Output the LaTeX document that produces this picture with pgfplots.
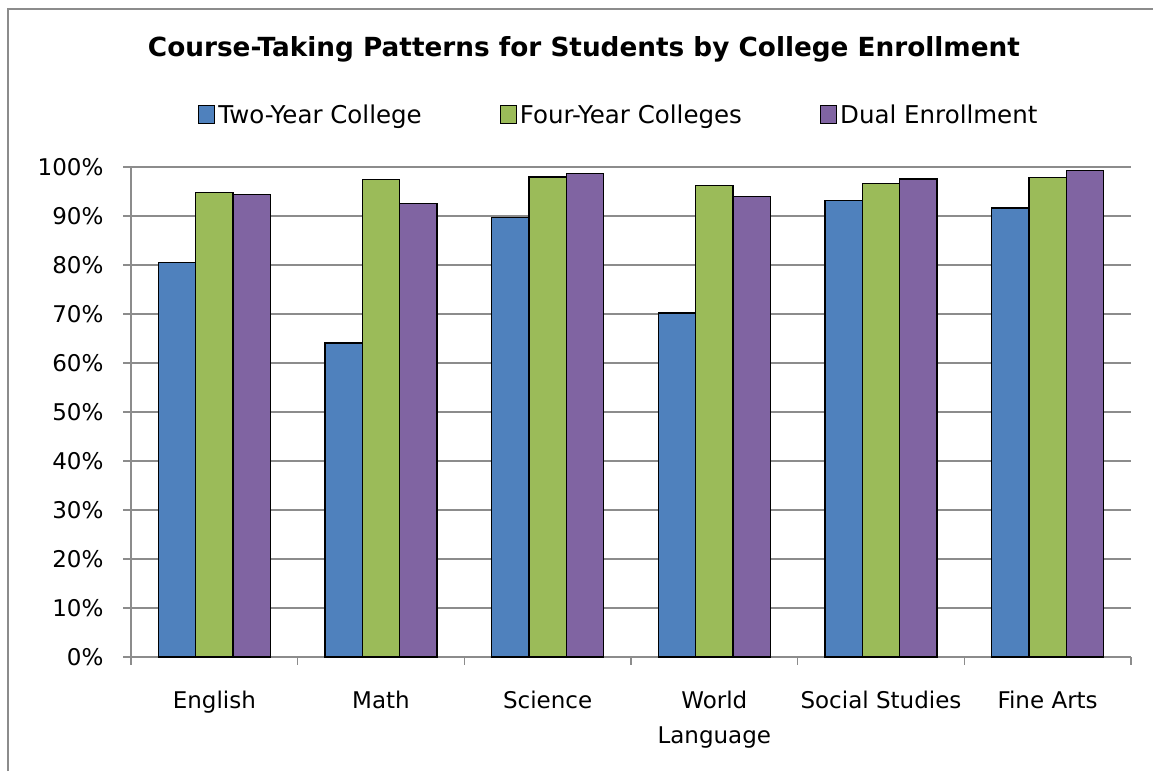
\documentclass[border=0pt]{standalone}
\usepackage{pgfplots}
\pgfplotsset{compat=1.18}
\usepackage{fontspec}
\setmainfont{DejaVu Sans}
\definecolor{cblue}{HTML}{4F81BD}
\definecolor{cgreen}{HTML}{9BBB59}
\definecolor{cpurple}{HTML}{8064A2}
\definecolor{gridgray}{HTML}{8C8C8C}
\begin{document}
\begin{tikzpicture}
\useasboundingbox (0,0) rectangle (1153pt,771pt);
\draw[gridgray, line width=2pt] (8pt,0pt) -- (8pt,762pt) -- (1153pt,762pt);
\node[anchor=base, font=\fontsize{26.3}{30}\selectfont\bfseries] at (584pt,714.3pt) {Course-Taking Patterns for Students by College Enrollment};
\begin{axis}[
  at={(131pt,114pt)}, anchor=south west,
  scale only axis, width=1000pt, height=490pt,
  xmin=-0.5, xmax=5.5, ymin=0, ymax=100,
  ybar=0pt, bar width=37.3pt,
  axis x line*=bottom, axis y line*=left,
  axis line style={gridgray, line width=1.5pt},
  ymajorgrids, grid style={gridgray, line width=1.5pt},
  tick align=outside,
  major tick length=8pt, minor tick length=8pt,
  tick style={gridgray, line width=1.5pt},
  xtick={0,1,2,3,4,5},
  xticklabels={English,Math,Science,World\\Language,Social Studies,Fine Arts},
  major x tick style={draw=none},
  minor xtick={-0.5,0.5,1.5,2.5,3.5,4.5,5.5},
  ytick={0,10,...,100},
  yticklabels={0\%,10\%,20\%,30\%,40\%,50\%,60\%,70\%,80\%,90\%,100\%},
  ticklabel style={font=\fontsize{23}{35}\selectfont, text=black},
  xticklabel style={align=center, yshift=-22pt},
  yticklabel style={xshift=-16pt},
  legend style={draw=none, fill=none, at={(0.064,1.106)}, anchor=west,
    legend columns=3, font=\fontsize{24.5}{28}\selectfont,
    nodes={inner sep=3pt},
    /tikz/every even column/.append style={column sep=75pt}},
  legend image code/.code={\draw[#1, line width=1.2pt] (0pt,-8.5pt) rectangle (16pt,9.5pt);},
]
\addplot[fill=cblue, draw=black, line width=1.5pt] coordinates {(0,80.5) (1,64.1) (2,89.7) (3,70.2) (4,93.2) (5,91.6)};
\addplot[fill=cgreen, draw=black, line width=1.5pt] coordinates {(0,94.8) (1,97.4) (2,98.0) (3,96.2) (4,96.6) (5,97.9)};
\addplot[fill=cpurple, draw=black, line width=1.5pt] coordinates {(0,94.4) (1,92.6) (2,98.7) (3,94.0) (4,97.6) (5,99.3)};
\legend{Two-Year College, Four-Year Colleges, Dual Enrollment}
\end{axis}
\end{tikzpicture}
\end{document}
